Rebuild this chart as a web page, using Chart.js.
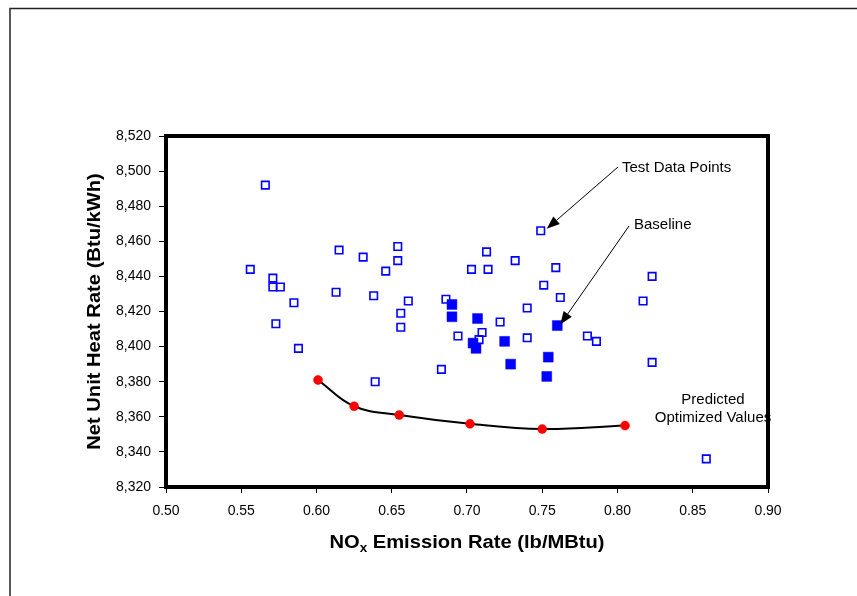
<!DOCTYPE html>
<html>
<head>
<meta charset="utf-8">
<title>Net Unit Heat Rate vs NOx Emission Rate</title>
<script src="https://cdn.jsdelivr.net/npm/chart.js@4.4.1/dist/chart.umd.min.js"></script>
<style>
  html, body { margin: 0; padding: 0; background: #fff; }
  #wrap { width: 857px; height: 596px; }
</style>
</head>
<body>
<div id="wrap"><canvas id="heatRateChart" width="857" height="596"></canvas></div>
<script>
var xTicks = [0.50, 0.55, 0.60, 0.65, 0.70, 0.75, 0.80, 0.85, 0.90];
var yTicks = [8320, 8340, 8360, 8380, 8400, 8420, 8440, 8460, 8480, 8500, 8520];

// test data points (open squares)
var testNox = [
  0.566, 0.556, 0.571, 0.571, 0.576, 0.585, 0.573, 0.588, 0.613, 0.615,
  0.631, 0.638, 0.646, 0.654, 0.654, 0.656, 0.656, 0.661, 0.639, 0.683,
  0.686, 0.694, 0.703, 0.713, 0.714, 0.710, 0.708, 0.722, 0.740, 0.740,
  0.751, 0.762, 0.749, 0.732, 0.759, 0.780, 0.786, 0.817, 0.823, 0.823,
  0.859
];
var testHeatRate = [
  8492, 8444, 8439, 8434, 8434, 8425, 8413, 8399, 8431, 8455,
  8451, 8429, 8443, 8457, 8449, 8419, 8411, 8426, 8380, 8387,
  8427, 8406, 8444, 8454, 8444, 8408, 8404, 8414, 8405, 8422,
  8435, 8428, 8466, 8449, 8445, 8406, 8403, 8426, 8440, 8391,
  8336
];

// baseline points (filled squares)
var baselineNox = [0.690, 0.690, 0.707, 0.704, 0.706, 0.725, 0.729, 0.754, 0.753, 0.760];
var baselineHeatRate = [8424, 8417, 8416, 8402, 8399, 8403, 8390, 8394, 8383, 8412];

// predicted optimized values (red points on the curve)
var optimizedNox = [0.601, 0.625, 0.655, 0.702, 0.750, 0.805];
var optimizedHeatRate = [8381, 8366, 8361, 8356, 8353, 8355];

var FONT = "'Liberation Sans', Arial, Helvetica, sans-serif";

function pairs(xs, ys) {
  return xs.map(function (x, i) {
    return { x: x, y: ys[i] };
  });
}

// draw text stretched along its own direction
function wideText(ctx, text, x, y, stretch) {
  ctx.save();
  ctx.translate(x, y);
  ctx.scale(stretch, 1);
  ctx.fillText(text, 0, 0);
  ctx.restore();
}

function arrow(ctx, x1, y1, x2, y2) {
  var ang = Math.atan2(y2 - y1, x2 - x1);
  var len = 13, half = 5;
  var bx = x2 - len * Math.cos(ang), by = y2 - len * Math.sin(ang);
  ctx.save();
  ctx.strokeStyle = '#000';
  ctx.fillStyle = '#000';
  ctx.lineWidth = 1;
  ctx.beginPath();
  ctx.moveTo(x1, y1);
  ctx.lineTo(bx, by);
  ctx.stroke();
  ctx.beginPath();
  ctx.moveTo(x2, y2);
  ctx.lineTo(bx + half * Math.sin(ang), by - half * Math.cos(ang));
  ctx.lineTo(bx - half * Math.sin(ang), by + half * Math.cos(ang));
  ctx.closePath();
  ctx.fill();
  ctx.restore();
}

var pagePlugin = {
  id: 'page',
  beforeDraw: function (chart) {
    var ctx = chart.ctx;
    ctx.save();
    ctx.fillStyle = '#fff';
    ctx.fillRect(0, 0, chart.width, chart.height);
    // outer frame (only top and left edges fall inside the page)
    ctx.strokeStyle = '#222';
    ctx.lineWidth = 1.5;
    ctx.beginPath();
    ctx.moveTo(10, chart.height);
    ctx.lineTo(10, 8.5);
    ctx.lineTo(chart.width, 8.5);
    ctx.stroke();
    ctx.restore();
  },
  afterDraw: function (chart) {
    var ctx = chart.ctx;
    var a = chart.chartArea;
    var xs = chart.scales.x, ys = chart.scales.y;

    // heavy plot box
    ctx.save();
    ctx.strokeStyle = '#000';
    ctx.lineWidth = 4;
    ctx.strokeRect(a.left, a.top, a.right - a.left, a.bottom - a.top);
    ctx.restore();

    ctx.save();
    ctx.fillStyle = '#000';
    var stretch = 1.12;

    // x axis title with subscript
    var big = 'bold 18px ' + FONT, small = 'bold 12px ' + FONT;
    ctx.font = big;
    var w1 = ctx.measureText('NO').width;
    var w3 = ctx.measureText(' Emission Rate (lb/MBtu)').width;
    ctx.font = small;
    var w2 = ctx.measureText('x').width;
    var total = (w1 + w2 + w3) * stretch;
    var tx = (a.left + a.right) / 2 - 0 - total / 2;
    var ty = 548;
    ctx.textBaseline = 'alphabetic';
    ctx.textAlign = 'left';
    ctx.font = big;
    wideText(ctx, 'NO', tx, ty, stretch);
    ctx.font = small;
    wideText(ctx, 'x', tx + w1 * stretch, ty + 4, stretch);
    ctx.font = big;
    wideText(ctx, ' Emission Rate (lb/MBtu)', tx + (w1 + w2) * stretch, ty, stretch);

    // y axis title
    ctx.save();
    ctx.translate(100, (a.top + a.bottom) / 2);
    ctx.rotate(-Math.PI / 2);
    ctx.textAlign = 'center';
    ctx.font = big;
    wideText(ctx, 'Net Unit Heat Rate (Btu/kWh)', 0, 0, stretch);
    ctx.restore();

    // annotations
    ctx.font = '15px ' + FONT;
    ctx.textBaseline = 'middle';
    ctx.textAlign = 'left';
    ctx.fillText('Test Data Points', 622, 168);
    ctx.fillText('Baseline', 634, 225);
    ctx.textAlign = 'center';
    ctx.fillText('Predicted', 713, 400);
    ctx.fillText('Optimized Values', 713, 418);
    ctx.restore();

    var tp = { x: xs.getPixelForValue(testNox[32]), y: ys.getPixelForValue(testHeatRate[32]) };
    arrow(ctx, 618, 167, tp.x + 6, tp.y - 2);
    var bp = { x: xs.getPixelForValue(baselineNox[9]), y: ys.getPixelForValue(baselineHeatRate[9]) };
    arrow(ctx, 629, 226, bp.x + 3, bp.y - 1);
  }
};

var tickFont = { family: FONT, size: 14 };

new Chart(document.getElementById('heatRateChart').getContext('2d'), {
  type: 'scatter',
  data: {
    datasets: [
      {
        label: 'Predicted Optimized Values',
        data: pairs(optimizedNox, optimizedHeatRate),
        showLine: true,
        tension: 0.4,
        borderColor: '#000',
        borderWidth: 2,
        pointStyle: 'circle',
        pointRadius: 4.5,
        pointBackgroundColor: '#ff0000',
        pointBorderColor: '#ff0000',
        pointBorderWidth: 0.5,
        order: 1
      },
      {
        label: 'Baseline',
        data: pairs(baselineNox, baselineHeatRate),
        pointStyle: 'rect',
        pointRadius: 7,
        backgroundColor: '#0000ff',
        borderColor: '#0000ff',
        borderWidth: 0.5,
        order: 2
      },
      {
        label: 'Test Data Points',
        data: pairs(testNox, testHeatRate),
        pointStyle: 'rect',
        pointRadius: 5.3,
        backgroundColor: 'rgba(0,0,0,0)',
        borderColor: '#0000ff',
        borderWidth: 1.6,
        order: 3
      }
    ]
  },
  options: {
    responsive: false,
    animation: false,
    events: [],
    layout: { padding: { left: 0, right: 89, top: 136, bottom: 0 } },
    plugins: { legend: { display: false }, tooltip: { enabled: false } },
    scales: {
      x: {
        type: 'linear',
        min: 0.5,
        max: 0.9,
        afterBuildTicks: function (scale) {
          scale.ticks = xTicks.map(function (v) { return { value: v }; });
        },
        afterFit: function (scale) { scale.height = 109; },
        ticks: {
          color: '#000',
          font: tickFont,
          padding: 10,
          maxRotation: 0,
          callback: function (v) { return Number(v).toFixed(2); }
        },
        grid: { drawOnChartArea: false, color: '#000', lineWidth: 1, tickLength: 6 },
        border: { display: false }
      },
      y: {
        type: 'linear',
        min: 8320,
        max: 8520,
        afterBuildTicks: function (scale) {
          scale.ticks = yTicks.map(function (v) { return { value: v }; });
        },
        afterFit: function (scale) { scale.width = 166; },
        ticks: {
          color: '#000',
          font: tickFont,
          padding: 8,
          callback: function (v) { return Number(v).toLocaleString('en-US'); }
        },
        grid: { drawOnChartArea: false, color: '#000', lineWidth: 1, tickLength: 7 },
        border: { display: false }
      }
    }
  },
  plugins: [pagePlugin]
});
</script>
</body>
</html>
